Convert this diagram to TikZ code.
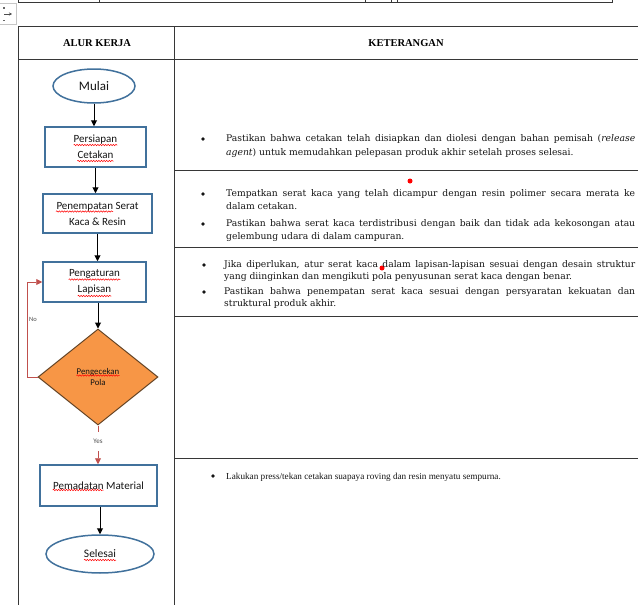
\documentclass[tikz,border=0pt]{standalone}
\usepackage{fontspec}
\setmainfont{DejaVu Serif}
\newfontfamily\fcam{DejaVu Serif}
\newfontfamily\ftnr{Liberation Serif}
\newfontfamily\fcal{Carlito}
\usetikzlibrary{shapes.geometric,arrows.meta,decorations.pathmorphing}
\definecolor{shapeblue}{RGB}{65,113,156}
\definecolor{loopred}{RGB}{192,80,77}
\definecolor{diafill}{RGB}{247,150,70}
\definecolor{diaedge}{RGB}{100,68,38}
\definecolor{txtgray}{RGB}{20,20,20}
\definecolor{rulegray}{RGB}{55,55,55}
\begin{document}
\begin{tikzpicture}[x=1pt,y=-1pt,
  rule/.style={draw=rulegray,line width=0.9pt},
  procbox/.style={draw=shapeblue,line width=1.5pt,rectangle,inner sep=0pt,font=\fcal\fontsize{11}{16}\selectfont,text=txtgray,align=center},
  term/.style={draw=shapeblue,line width=1.5pt,ellipse,inner sep=0pt,text=txtgray},
  flow/.style={draw=black,line width=1pt,-{Triangle[length=6pt,width=6pt]}},
  loopline/.style={draw=loopred,line width=0.9pt},
  looparrow/.style={loopline,-{Triangle[length=6pt,width=6pt]}},
  squig/.style={draw=red,line width=0.5pt,decorate,decoration={snake,amplitude=0.7pt,segment length=2.6pt}},
  body/.style={font=\fcam\fontsize{9.2}{12}\selectfont,text=txtgray,inner sep=0pt,anchor=base west},
  bul/.style={circle,fill=txtgray,inner sep=0pt,minimum size=3.6pt},
  head/.style={font=\ftnr\bfseries\fontsize{10.5}{12}\selectfont,text=black,inner sep=0pt},
  small/.style={font=\fcal\fontsize{7}{8}\selectfont,text=black!70,inner sep=0pt},
  reddot/.style={circle,fill=red,inner sep=0pt,minimum size=5pt},
]
\useasboundingbox (0,0) rectangle (638,605);

% upper table remnant
\draw[rule] (18,0) -- (18,2) -- (612,2) -- (612,0);
\foreach \xx in {99,365,391,397} \draw[rule] (\xx,0) -- (\xx,2);
% table move handle
\draw[gray!45,line width=0.6pt] (-1,3) rectangle (16,24);
\draw[black!70,line width=0.7pt,-{Stealth[length=3pt,width=3pt]}] (4,14) -- (12,14);
\fill[black!60] (3,7) rectangle (4.5,8.5);
\fill[black!60] (3,19.5) rectangle (4.5,21);

% main table
\draw[rule] (18,26) -- (638,26);
\draw[rule] (18,59) -- (638,59);
\draw[rule] (18,26) -- (18,605);
\draw[rule] (174,26) -- (174,605);
\draw[rule] (174,170) -- (638,170);
\draw[rule] (174,247) -- (638,247);
\draw[rule] (174,316) -- (638,316);
\draw[rule] (174,458) -- (638,458);

\node[head] (h1) at (97,43) {ALUR KERJA};
\node[head] (h2) at (406,43) {KETERANGAN};

% flowchart
\node[term,minimum width=82pt,minimum height=34pt,font=\fcal\fontsize{13}{15}\selectfont] (mulai) at (94,86) {Mulai};
\node[procbox,minimum width=101pt,minimum height=40pt] (persiapan) at (95.5,147) {Persiapan\\Cetakan};
\node[procbox,minimum width=109pt,minimum height=39pt] (penempatan) at (97.5,213.5) {Penempatan Serat\\Kaca \& Resin};
\node[procbox,minimum width=103pt,minimum height=40pt] (pengaturan) at (94.5,282) {Pengaturan\\Lapisan};
\node[diamond,draw=diaedge,fill=diafill,line width=1pt,minimum width=120pt,minimum height=96pt,inner sep=0pt,font=\fcal\fontsize{8.8}{11}\selectfont,text=txtgray,align=center] (cek) at (98,377) {Pengecekan\\Pola};
\node[procbox,minimum width=117pt,minimum height=41pt] (pemadatan) at (98.5,485.5) {Pemadatan Material};
\node[term,minimum width=108pt,minimum height=38pt,font=\fcal\fontsize{11.5}{13}\selectfont] (selesai) at (100,554) {Selesai};

\draw[flow] (mulai.south) -- (mulai.south |- persiapan.north);
\draw[flow] (persiapan.south) -- (persiapan.south |- penempatan.north);
\draw[flow] (penempatan.south) -- (penempatan.south |- pengaturan.north);
\draw[flow] (pengaturan.south -| cek.north) -- (cek.north);
\draw[flow] (selesai.north |- pemadatan.south) -- (selesai.north);

% yes branch
\coordinate (yesend) at (98,432);
\coordinate (yesstart) at (98,451);
\node[small] (yes) at (98,441.5) {Yes};
\draw[loopline] (cek.south) -- (yesend);
\draw[looparrow] (yesstart) -- (yesstart |- pemadatan.north);

% no branch
\coordinate (nob) at (27,377);
\coordinate (not) at (27,282);
\draw[looparrow] (cek.west) -- (nob) -- (not) -- (pengaturan.west);
\node[small,font=\fcal\fontsize{6.5}{8}\selectfont] (no) at (33,319) {No};

% spell-check squiggles
\draw[squig] (73.6,145) -- (117.4,145);
\draw[squig] (77.3,161) -- (113.7,161);
\draw[squig] (56,211.5) -- (113,211.5);
\draw[squig] (68.6,279.5) -- (120.4,279.5);
\draw[squig] (77.7,296) -- (111.3,296);
\draw[squig] (76.5,375.5) -- (119.5,375.5);
\draw[squig] (52.7,490) -- (103.7,490);
\draw[squig] (84,560) -- (116,560);

% red dots
\node[reddot] (rd1) at (410,181) {};
\node[reddot] (rd2) at (382,268) {};

% right column texts
\node[bul] (b1) at (203,139) {};
\node[body] (t1a) at (226,141.5) {\makebox[409pt][s]{Pastikan bahwa cetakan telah disiapkan dan diolesi dengan bahan pemisah (\textit{release}}};
\node[body] (t1b) at (226,155.5) {\textit{agent}) untuk memudahkan pelepasan produk akhir setelah proses selesai.};

\node[bul] (b2) at (203,194) {};
\node[body] (t2a) at (226,196.5) {\makebox[409pt][s]{Tempatkan serat kaca yang telah dicampur dengan resin polimer secara merata ke}};
\node[body] (t2b) at (226,209.5) {dalam cetakan.};
\node[bul] (b3) at (203,224) {};
\node[body] (t3a) at (226,226.5) {\makebox[409pt][s]{Pastikan bahwa serat kaca terdistribusi dengan baik dan tidak ada kekosongan atau}};
\node[body] (t3b) at (226,239.5) {gelembung udara di dalam campuran.};

\node[bul] (b4) at (204,265) {};
\node[body] (t4a) at (224,267.5) {\makebox[411pt][s]{Jika diperlukan, atur serat kaca dalam lapisan-lapisan sesuai dengan desain struktur}};
\node[body] (t4b) at (224,279.5) {yang diinginkan dan mengikuti pola penyusunan serat kaca dengan benar.};
\node[bul] (b5) at (204,292) {};
\node[body] (t5a) at (224,294.5) {\makebox[411pt][s]{Pastikan bahwa penempatan serat kaca sesuai dengan persyaratan kekuatan dan}};
\node[body] (t5b) at (224,306.5) {struktural produk akhir.};

\node[bul] (b6) at (213,476) {};
\node[body,font=\ftnr\fontsize{9.2}{11}\selectfont] (t6) at (226,479) {Lakukan press/tekan cetakan suapaya roving dan resin menyatu sempurna.};
\end{tikzpicture}
\end{document}
